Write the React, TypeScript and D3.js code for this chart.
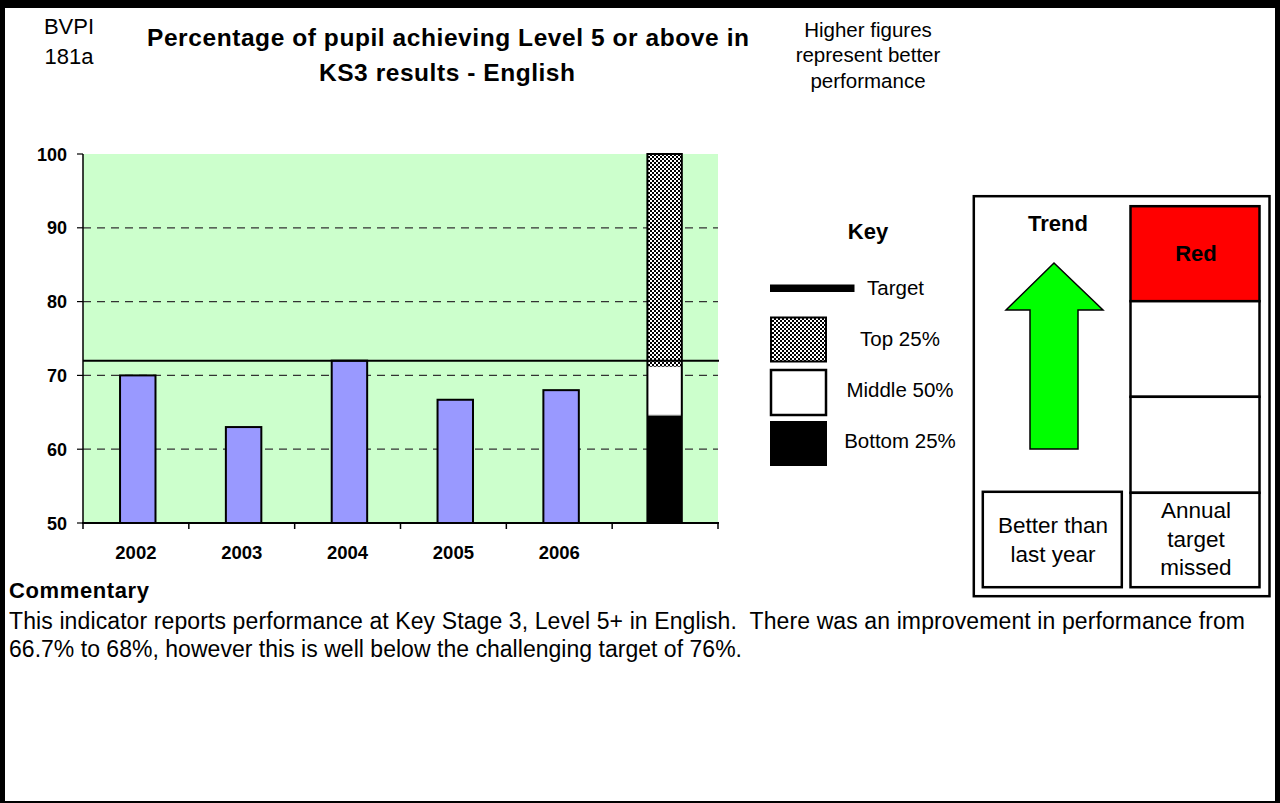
import React from "react";
import * as d3 from "d3";

const categories = ["2002", "2003", "2004", "2005", "2006", ""];
const values = [70, 63, 72, 66.7, 68];
const target = 72;
const quartileBounds = [50, 64.6, 71.2, 100];
const quartileNames = ["Bottom 25%", "Middle 50%", "Top 25%"];
const yTicks = [50, 60, 70, 80, 90, 100];
const gridTicks = [60, 70, 80, 90];
const titleLines = ["Percentage of pupil achieving Level 5 or above in", "KS3 results - English"];
const noteLines = ["Higher figures", "represent better", "performance"];
const commentaryLines = [
  "This indicator reports performance at Key Stage 3, Level 5+ in English.  There was an improvement in performance from",
  "66.7% to 68%, however this is well below the challenging target of 76%.",
];

const FONT = "'Liberation Sans', Arial, Helvetica, sans-serif";

export default function App() {
  const keys = categories.map((c, i) => c || `q${i}`);
  const x = d3.scaleBand<string>().domain(keys).range([83, 718]).padding(0);
  const y = d3.scaleLinear().domain([50, 100]).range([523, 154]);
  const bw = x.bandwidth();
  const barOff = bw * 0.35;
  const barW = bw * 0.335;
  const qKey = keys[5];
  const qx = (x(qKey) as number) + bw * 0.333;
  const qw = bw * 0.325;
  const qFills = ["#000000", "#ffffff", "url(#checker)"];
  const boundaries = d3.range(keys.length + 1).map((i) => 83 + i * bw);

  return (
    <svg
      width={1280}
      height={803}
      style={{ position: "absolute", left: 0, top: 0, fontFamily: FONT }}
    >
      <defs>
        <pattern id="checker" width={4} height={4} patternUnits="userSpaceOnUse">
          <rect width={4} height={4} fill="#fff" />
          <rect x={0} y={0} width={2} height={2} fill="#000" />
          <rect x={2} y={2} width={2} height={2} fill="#000" />
        </pattern>
      </defs>
      <rect x={0} y={0} width={1280} height={803} fill="#000" />
      <rect x={5} y={8} width={1270} height={793} fill="#fff" />

      {/* header */}
      <text x={69} y={34} fontSize={22} textAnchor="middle">BVPI</text>
      <text x={69} y={64} fontSize={22} textAnchor="middle">181a</text>
      <text x={448} y={46} fontSize={24.5} fontWeight="bold" textAnchor="middle" textLength={602}>{titleLines[0]}</text>
      <text x={447} y={81} fontSize={24.5} fontWeight="bold" textAnchor="middle" textLength={256}>{titleLines[1]}</text>
      {noteLines.map((t, i) => (
        <text key={t} x={868} y={36.5 + i * 25.5} fontSize={20.5} textAnchor="middle">{t}</text>
      ))}

      {/* plot area */}
      <rect x={83} y={y(100)} width={718 - 83} height={y(50) - y(100)} fill="#CCFFCC" />
      {gridTicks.map((t) => (
        <line key={t} x1={83} x2={718} y1={y(t)} y2={y(t)} stroke="#333" strokeWidth={1.2} strokeDasharray="8,6" />
      ))}
      {values.map((v, i) => (
        <rect
          key={keys[i]}
          x={(x(keys[i]) as number) + barOff}
          y={y(v)}
          width={barW}
          height={y(50) - y(v)}
          fill="#9999FF"
          stroke="#000"
          strokeWidth={2}
        />
      ))}
      {quartileNames.map((n, i) => (
        <rect
          key={n}
          x={qx}
          y={y(quartileBounds[i + 1])}
          width={qw}
          height={y(quartileBounds[i]) - y(quartileBounds[i + 1])}
          fill={qFills[i]}
          stroke={i === 1 ? "#888" : "none"}
          strokeWidth={1}
        />
      ))}
      <rect
        x={qx}
        y={y(100)}
        width={qw}
        height={y(50) - y(100)}
        fill="none"
        stroke="#000"
        strokeWidth={2}
      />
      <line x1={83} x2={719} y1={y(target)} y2={y(target)} stroke="#000" strokeWidth={2} />

      {/* axes */}
      <line x1={83} x2={83} y1={y(100)} y2={y(50)} stroke="#000" strokeWidth={1.5} />
      <line x1={82} x2={719} y1={y(50)} y2={y(50)} stroke="#000" strokeWidth={2} />
      {yTicks.map((t) => (
        <g key={t}>
          <line x1={77} x2={83} y1={y(t)} y2={y(t)} stroke="#000" strokeWidth={1.2} />
          <text x={67} y={y(t) + 6.5} fontSize={18} fontWeight="bold" textAnchor="end">{t}</text>
        </g>
      ))}
      {boundaries.map((b, i) => (
        <line key={i} x1={b} x2={b} y1={y(50)} y2={y(50) + 6} stroke="#000" strokeWidth={1.5} />
      ))}
      {categories.map((c, i) => (
        <text key={keys[i]} x={(x(keys[i]) as number) + bw * 0.5} y={559} fontSize={18.5} fontWeight="bold" textAnchor="middle">{c}</text>
      ))}

      {/* key */}
      <text x={868} y={239} fontSize={22} fontWeight="bold" textAnchor="middle">Key</text>
      <rect x={770} y={284.5} width={84.5} height={7.5} fill="#000" />
      <text x={867} y={295} fontSize={20.5}>Target</text>
      <rect x={771} y={317.5} width={55} height={44} fill="url(#checker)" stroke="#000" strokeWidth={2} />
      <rect x={771} y={370} width={55} height={45} fill="#fff" stroke="#000" strokeWidth={2.5} />
      <rect x={770} y={421} width={57} height={45} fill="#000" />
      {[quartileNames[2], quartileNames[1], quartileNames[0]].map((n, i) => (
        <text key={n} x={900} y={346 + i * 51.2} fontSize={20.5} textAnchor="middle">{n}</text>
      ))}

      {/* status box */}
      <rect x={973.8} y={196.2} width={295.7} height={400} fill="#fff" stroke="#000" strokeWidth={2.5} />
      <text x={1058} y={230.7} fontSize={22} fontWeight="bold" textAnchor="middle">Trend</text>
      <path
        d="M1054,263 L1103,310 L1078,310 L1078,449 L1030,449 L1030,310 L1006,310 Z"
        fill="#00FF00"
        stroke="#000"
        strokeWidth={1.5}
      />
      <rect x={1130.5} y={206.2} width={129} height={95} fill="#FF0000" stroke="#000" strokeWidth={2.5} />
      <text x={1196} y={261} fontSize={22} fontWeight="bold" textAnchor="middle">Red</text>
      <rect x={1130.5} y={301.2} width={129} height={95.6} fill="#fff" stroke="#000" strokeWidth={2.5} />
      <rect x={1130.5} y={396.8} width={129} height={96} fill="#fff" stroke="#000" strokeWidth={2.5} />
      <rect x={1130.5} y={492.8} width={129} height={94.4} fill="#fff" stroke="#000" strokeWidth={2.5} />
      <rect x={982.8} y={491.8} width={139} height={95.4} fill="#fff" stroke="#000" strokeWidth={2.5} />
      <text x={1053} y={532.7} fontSize={22.5} textAnchor="middle">Better than</text>
      <text x={1053} y={561.7} fontSize={22.5} textAnchor="middle">last year</text>
      <text x={1196} y={518.3} fontSize={22.5} textAnchor="middle">Annual</text>
      <text x={1196} y={546.7} fontSize={22.5} textAnchor="middle">target</text>
      <text x={1196} y={575} fontSize={22.5} textAnchor="middle">missed</text>

      {/* commentary */}
      <text x={9} y={598} fontSize={22} fontWeight="bold" textLength={140}>Commentary</text>
      <text x={9} y={629} fontSize={23} textLength={1236} style={{ whiteSpace: "pre" }}>{commentaryLines[0]}</text>
      <text x={9} y={657} fontSize={23} textLength={733} style={{ whiteSpace: "pre" }}>{commentaryLines[1]}</text>
    </svg>
  );
}
